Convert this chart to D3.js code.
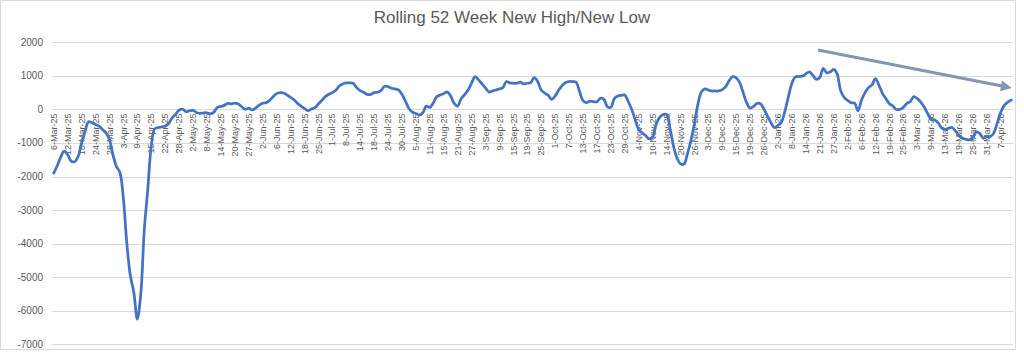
<!DOCTYPE html>
<html>
<head>
<meta charset="utf-8">
<script src="https://cdn.jsdelivr.net/npm/d3@7"></script>
<style>
body { margin: 0; background: #fff; }
svg text { font-family: "Liberation Sans", Arial, sans-serif; fill: #595959; }
</style>
</head>
<body>
<div id="container"></div>
<script>
// daily net new highs minus new lows, one value per trading day (6-Mar-25 .. 10-Apr-26)
const values = [
  -1900, -1680, -1420, -1240, -1350, -1540, -1560, -1400, -1000, -650,
  -370, -400, -450, -500, -600, -700, -900, -1350, -1700, -1880,
  -2650, -4000, -4950, -5450, -6250, -5500, -3600, -2400, -1100, -580,
  -540, -520, -500, -420, -250, -150, -20, 10, -70, -40,
  -30, -90, -120, -100, -100, -130, -80, 60, 90, 120,
  180, 165, 190, 160, 80, 0, 35, -15, 40, 130,
  185, 200, 270, 380, 470, 500, 490, 430, 360, 290,
  180, 100, 30, -40, 10, 50, 160, 270, 380, 450,
  500, 570, 700, 760, 790, 790, 780, 650, 560, 510,
  450, 450, 500, 510, 560, 690, 680, 630, 610, 580,
  450, 250, 30, -80, -120, -165, -100, 100, 60, 190,
  380, 430, 470, 520, 400, 180, 100, 320, 440, 580,
  780, 980, 880, 760, 640, 520, 550, 580, 610, 650,
  830, 790, 780, 780, 810, 760, 780, 800, 950, 830,
  580, 490, 420, 300, 400, 570, 710, 800, 830, 830,
  810, 540, 260, 200, 250, 230, 230, 330, 300, 80,
  60, 320, 400, 420, 430, 230, 0, -310, -600, -700,
  -780, -880, -820, -450, -240, -150, -150, -560, -1100, -1450,
  -1620, -1630, -1320, -930, -430, 150, 520, 610, 580, 550,
  550, 550, 590, 680, 860, 980, 940, 800, 500, 200,
  40, 90, 180, 165, 0, -200, -400, -540, -480, -380,
  -50, 380, 780, 970, 980, 990, 1060, 1120, 1020, 900,
  950, 1220, 1090, 1120, 1190, 1050, 560, 360, 270, 200,
  185, -40, 280, 500, 650, 730, 920, 720, 480, 320,
  170, 100, 0, 0, 60, 180, 230, 380, 320, 220,
  70, -130, -300, -310, -400, -550, -600, -560, -540, -650,
  -780, -860, -890, -910, -830, -670, -720, -860, -810, -810,
  -700, -400, -80, 120, 220, 280
];

// one label every 4th trading day
const tickLabels = [
  "6-Mar-25", "12-Mar-25", "18-Mar-25", "24-Mar-25", "28-Mar-25", "3-Apr-25", "9-Apr-25",
  "15-Apr-25", "22-Apr-25", "28-Apr-25", "2-May-25", "8-May-25", "14-May-25", "20-May-25",
  "27-May-25", "2-Jun-25", "6-Jun-25", "12-Jun-25", "18-Jun-25", "25-Jun-25", "1-Jul-25",
  "8-Jul-25", "14-Jul-25", "18-Jul-25", "24-Jul-25", "30-Jul-25", "5-Aug-25", "11-Aug-25",
  "15-Aug-25", "21-Aug-25", "27-Aug-25", "3-Sep-25", "9-Sep-25", "15-Sep-25", "19-Sep-25",
  "25-Sep-25", "1-Oct-25", "7-Oct-25", "13-Oct-25", "17-Oct-25", "23-Oct-25", "29-Oct-25",
  "4-Nov-25", "10-Nov-25", "14-Nov-25", "20-Nov-25", "26-Nov-25", "3-Dec-25", "9-Dec-25",
  "15-Dec-25", "19-Dec-25", "26-Dec-25", "2-Jan-26", "8-Jan-26", "14-Jan-26", "21-Jan-26",
  "27-Jan-26", "2-Feb-26", "6-Feb-26", "12-Feb-26", "19-Feb-26", "25-Feb-26", "3-Mar-26",
  "9-Mar-26", "13-Mar-26", "19-Mar-26", "25-Mar-26", "31-Mar-26", "7-Apr-26"
];
const labelStep = 4;

const yTicks = [2000, 1000, 0, -1000, -2000, -3000, -4000, -5000, -6000, -7000];

// hand-drawn trend arrow, in data units: [day index, value]
const trendArrow = [[220, 1770], [276, 630]];

const width = 1024, height = 352;
const margin = { left: 52, right: 11, top: 42.3, bottom: 7.7 };

const svg = d3.select("div#container")
    .append("svg")
    .attr("width", width)
    .attr("height", height);

// chart border
svg.append("rect")
    .attr("x", 0.5).attr("y", 0.5)
    .attr("width", 1015).attr("height", 349)
    .attr("fill", "#fff")
    .attr("stroke", "#d9d9d9");

const x = d3.scaleBand()
    .domain(d3.range(values.length))
    .range([margin.left, width - margin.right])
    .padding(0);
const xc = i => x(i) + x.bandwidth() / 2;

const y = d3.scaleLinear()
    .domain([-7000, 2000])
    .range([height - margin.bottom, margin.top]);

// gridlines
svg.append("g")
    .selectAll("line")
    .data(yTicks)
    .join("line")
    .attr("x1", margin.left).attr("x2", width - margin.right)
    .attr("y1", d => Math.round(y(d)) + 0.5)
    .attr("y2", d => Math.round(y(d)) + 0.5)
    .attr("stroke", "#d9d9d9")
    .attr("stroke-width", 1);

// y labels
svg.append("g")
    .selectAll("text")
    .data(yTicks)
    .join("text")
    .attr("x", 43)
    .attr("y", d => y(d))
    .attr("dy", "0.35em")
    .attr("text-anchor", "end")
    .style("font-size", "10px")
    .text(d => d);

// x labels, rotated, hanging just under the zero line
svg.append("g")
    .selectAll("text")
    .data(tickLabels)
    .join("text")
    .attr("transform", (d, k) => `translate(${xc(k * labelStep)},${y(0) + 4}) rotate(-90)`)
    .attr("dy", "0.35em")
    .attr("text-anchor", "end")
    .style("font-size", "9px")
    .text(d => d);

// series line
const line = d3.line()
    .x((d, i) => xc(i))
    .y(d => y(d))
    .curve(d3.curveCatmullRom.alpha(0.5));

svg.append("path")
    .datum(values)
    .attr("fill", "none")
    .attr("stroke", "#4472c4")
    .attr("stroke-width", 2.75)
    .attr("stroke-linejoin", "round")
    .attr("stroke-linecap", "round")
    .attr("d", line);

// title
svg.append("text")
    .attr("x", 512)
    .attr("y", 23)
    .attr("text-anchor", "middle")
    .style("font-size", "17px")
    .text("Rolling 52 Week New High/New Low");

// trend arrow
svg.append("defs").append("marker")
    .attr("id", "arrowHead")
    .attr("markerUnits", "userSpaceOnUse")
    .attr("viewBox", "0 0 10 10")
    .attr("refX", 2).attr("refY", 5)
    .attr("markerWidth", 12).attr("markerHeight", 11)
    .attr("orient", "auto")
    .append("path")
    .attr("d", "M0,0 L10,5 L0,10 Z")
    .attr("fill", "#8497b0");

const ax = d => x.range()[0] + d[0] * x.bandwidth();
const a0 = trendArrow[0], a1 = trendArrow[1];
const dx = ax(a1) - ax(a0), dyy = y(a1[1]) - y(a0[1]);
const len = Math.hypot(dx, dyy);
svg.append("line")
    .attr("x1", ax(a0)).attr("y1", y(a0[1]))
    .attr("x2", ax(a1) - dx / len * 10).attr("y2", y(a1[1]) - dyy / len * 10)
    .attr("stroke", "#8497b0")
    .attr("stroke-width", 3)
    .attr("marker-end", "url(#arrowHead)");
</script>
</body>
</html>
